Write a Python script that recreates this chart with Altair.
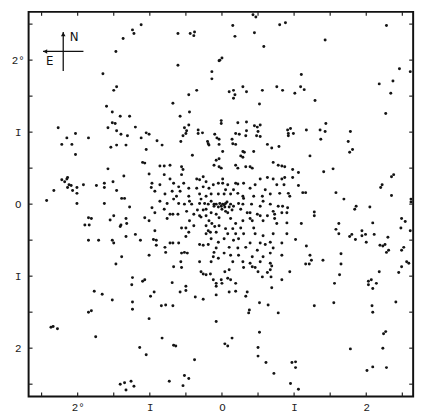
import altair as alt
import pandas as pd

# Star positions: offsets in degrees (east-west, north-south) from the cluster centre.
north_west = [(-1.65,1.81),(-1.46,1.63),(-1.50,1.58),(-1.60,1.36),(-1.52,1.28),(-1.41,1.22),(-1.28,1.22),(-1.52,1.13),(-1.48,1.12),(-1.58,1.06),(-1.46,1.02),(-1.40,0.97),(-1.31,0.95),(-1.20,1.07),(-2.27,1.06),(-2.15,0.92),(-2.03,0.98),(-1.85,0.92),(-1.37,2.30),(-1.24,2.42),(-1.22,2.37),(-1.47,2.12)]
north_centre = [(-1.12,2.49),(-0.61,2.37),(-0.44,2.37),(-0.38,2.39),(-0.39,2.34),(0.15,2.48),(0.18,2.33),(0.45,2.38),(0.80,2.49),(0.58,2.19),(0.43,2.63),(0.47,2.60),(-0.61,1.93),(-0.04,1.99),(-0.03,2.00),(0.00,2.03),(-0.14,1.84),(-0.14,1.74),(-0.35,1.58),(-0.46,1.52),(0.10,1.56),(0.16,1.58),(0.18,1.52),(0.16,1.47),(0.29,1.63),(0.34,1.56),(0.56,1.58),(0.76,1.63),(0.84,1.58),(0.52,1.39),(-0.68,1.40),(-0.45,1.28),(-0.58,1.22),(-0.46,1.10),(-0.52,1.06),(-0.49,1.02),(-0.50,0.98),(-0.54,0.95),(-0.33,1.03),(-0.33,0.98),(-0.27,0.99),(-0.01,1.16),(-0.01,1.12),(-0.10,0.97),(-0.07,0.92),(-0.04,0.90),(0.22,1.13),(0.34,1.14),(0.45,1.09),(0.49,1.07),(0.53,1.10),(0.19,0.98),(0.24,0.97),(0.33,0.95),(0.34,1.02),(0.48,0.95),(0.53,0.94),(0.50,1.01),(0.14,0.90),(-1.05,0.99),(-1.01,0.97),(-1.12,0.92),(-0.90,0.88),(-0.57,0.87),(-0.20,0.87)]
north_east = [(0.88,2.52),(1.43,2.28),(2.28,2.48),(1.10,1.80),(1.09,1.63),(1.14,1.59),(1.01,1.54),(1.29,1.44),(2.46,1.88),(2.61,1.84),(2.37,1.71),(2.34,1.54),(2.18,1.67),(2.27,1.26),(1.44,1.12),(0.91,1.03),(0.95,1.05),(0.92,0.98),(0.99,0.98),(0.92,0.95),(1.17,1.03),(1.36,1.03),(1.43,1.01),(1.37,0.90),(1.78,1.01),(1.75,0.87)]
west = [(-2.22,0.83),(-2.08,0.83),(-2.03,0.69),(-1.54,0.79),(-1.46,0.82),(-1.33,0.82),(-1.58,0.49),(-1.36,0.39),(-2.22,0.34),(-2.14,0.37),(-2.15,0.35),(-2.18,0.31),(-2.12,0.27),(-2.09,0.26),(-2.14,0.23),(-2.07,0.19),(-2.01,0.23),(-2.01,0.15),(-1.92,0.27),(-2.33,0.19),(-2.43,0.05),(-1.74,0.26),(-1.63,0.29),(-1.63,0.23),(-1.51,0.31),(-1.46,0.19),(-2.01,0.01),(-1.63,0.01),(-1.39,0.08),(-1.35,0.08),(-1.28,-0.04),(-1.85,-0.19),(-1.81,-0.20),(-1.90,-0.29),(-1.84,-0.29),(-1.55,-0.22),(-1.50,-0.16),(-1.41,-0.31),(-1.40,-0.29),(-1.33,-0.20),(-1.32,-0.27),(-1.85,-0.50),(-1.71,-0.50),(-1.52,-0.50),(-1.50,-0.54),(-1.33,-0.45),(-1.20,-0.42),(-1.39,-0.73),(-1.47,-0.83),(-1.24,-1.02),(-1.25,-1.12),(-1.77,-1.21),(-1.66,-1.25)]
south_west = [(-1.85,-1.50),(-1.81,-1.48),(-1.52,-1.33),(-1.24,-1.36),(-1.24,-1.46),(-2.37,-1.71),(-2.34,-1.70),(-2.28,-1.73),(-1.75,-1.84),(-1.41,-2.50),(-1.35,-2.48),(-1.26,-2.46),(-1.33,-2.58),(-1.22,-2.53)]
south = [(-1.14,-1.99),(-1.01,-1.59),(-1.05,-2.09),(-0.84,-1.41),(-0.78,-1.40),(-0.68,-1.41),(-0.83,-1.86),(-0.67,-1.96),(-0.64,-1.97),(-0.73,-2.46),(-0.52,-2.38),(-0.46,-2.42),(-0.54,-2.52),(-0.38,-2.16),(-0.08,-1.63),(0.04,-1.94),(0.08,-1.97),(0.14,-1.86),(0.37,-1.51),(0.38,-1.47),(0.52,-1.37),(0.64,-1.40),(0.78,-1.51),(0.52,-1.78),(0.50,-1.99),(0.50,-2.11),(0.61,-2.20),(0.72,-2.35),(0.97,-2.20),(1.02,-2.19),(1.02,-2.27),(0.95,-2.49),(1.06,-2.57),(1.28,-1.41),(1.55,-1.37),(1.78,-2.01),(2.01,-2.31),(2.09,-2.26),(2.28,-2.27),(2.08,-1.41),(2.09,-1.50),(2.23,-2.00),(2.24,-1.80),(2.27,-1.77),(2.41,-1.36)]
east = [(1.81,0.76),(1.77,0.72),(1.22,0.67),(0.87,0.52),(0.98,0.48),(1.06,0.44),(0.98,0.37),(0.87,0.37),(1.41,0.45),(1.54,0.49),(1.06,0.26),(1.12,0.16),(1.16,0.16),(0.92,0.15),(0.94,0.11),(1.58,0.16),(1.69,0.07),(2.38,0.41),(2.35,0.38),(2.22,0.27),(2.20,0.23),(2.35,0.12),(2.62,0.07),(2.62,0.03),(0.91,-0.05),(0.90,-0.12),(1.28,-0.11),(1.28,-0.16),(1.86,-0.03),(1.84,-0.07),(2.05,-0.04),(0.90,-0.26),(1.10,-0.27),(1.62,-0.27),(1.58,-0.35),(1.62,-0.41),(1.77,-0.45),(1.80,-0.42),(2.09,-0.26),(1.94,-0.37),(1.99,-0.42),(1.94,-0.44),(2.11,-0.42),(1.85,-0.49),(2.00,-0.53),(2.49,-0.20),(2.54,-0.24),(2.48,-0.33),(2.61,-0.37),(0.90,-0.41),(1.02,-0.49),(1.17,-0.58),(2.30,-0.46),(2.19,-0.57),(2.23,-0.58),(2.26,-0.56),(2.28,-0.67),(2.31,-0.64),(2.52,-0.60),(2.49,-0.64),(1.22,-0.71),(1.24,-0.78),(1.16,-0.83),(1.21,-0.83),(1.40,-0.78),(1.65,-0.69),(1.65,-0.83),(1.63,-0.98),(1.56,-1.10),(2.18,-0.94),(2.56,-0.80),(2.59,-0.82),(2.49,-0.87),(2.45,-0.95),(2.07,-1.05),(2.03,-1.07),(2.14,-1.10),(2.03,-1.12),(2.09,-1.17)]
inner_ring = [(-1.05,0.76),(-1.10,0.58),(-1.07,0.57),(-1.01,0.42),(-0.97,0.29),(-0.98,0.23),(-0.93,0.18),(-0.97,-0.05),(-0.93,-0.12),(-1.07,-0.19),(-1.01,-0.23),(-0.93,-0.37),(-1.13,-0.50),(-0.95,-0.49),(-0.91,-0.50),(-0.91,-0.57),(-1.01,-0.71),(-1.10,-1.07),(-1.07,-1.05),(-0.99,-1.28),(-0.94,-1.22),(-0.69,-1.09),(-0.67,-0.87),(-0.56,-0.88),(-0.50,-1.14),(-0.50,-1.20),(-0.37,-1.29),(-0.29,-0.94),(-0.26,-0.97),(-0.22,-0.98),(-0.16,-0.97),(-0.12,-1.05),(-0.08,-1.10),(-0.08,-1.14),(-0.01,-1.05),(0.00,-1.10),(0.08,-1.03),(0.12,-1.05),(0.19,-1.10),(0.04,-0.94),(0.10,-0.91),(0.30,-0.88),(0.42,-0.87),(0.46,-0.88),(0.50,-0.94),(0.56,-1.01),(0.63,-0.95),(0.67,-0.91),(0.69,-0.86),(0.68,-1.01),(0.69,-1.16),(0.83,-1.05),(0.94,-0.94),(0.35,-1.22),(0.33,-1.28),(0.19,-1.21),(0.10,-1.22),(-0.08,-1.26),(-0.26,-1.32),(-0.58,-1.22)]
core_nw = [(-0.83,0.82),(-0.19,0.84),(-0.18,0.82),(-0.04,0.83),(-0.41,0.68),(-0.08,0.61),(-0.04,0.63),(-0.11,0.54),(-0.04,0.52),(-0.86,0.53),(-0.80,0.53),(-0.72,0.54),(-0.56,0.52),(-0.54,0.48),(-0.80,0.41),(-0.72,0.35),(-0.56,0.41),(-0.35,0.35),(-0.31,0.34),(-0.26,0.38),(-0.22,0.31),(-0.12,0.27),(-0.05,0.29),(-0.86,0.27),(-0.67,0.29),(-0.60,0.24),(-0.53,0.29),(-0.46,0.22),(-0.35,0.22),(-0.26,0.24),(-0.18,0.22),(-0.79,0.14),(-0.69,0.18),(-0.63,0.11),(-0.58,0.18),(-0.46,0.11),(-0.31,0.14),(-0.22,0.11),(-0.15,0.14),(-0.05,0.14),(-0.86,0.04),(-0.76,0.01),(-0.67,0.07),(-0.60,0.01),(-0.45,0.04),(-0.29,0.07),(-0.24,0.01),(-0.15,0.04),(-0.11,0.00)]
core_ne = [(0.15,0.84),(0.19,0.83),(0.63,0.83),(0.79,0.80),(0.69,0.78),(0.29,0.73),(0.31,0.72),(0.26,0.67),(0.29,0.65),(0.44,0.73),(0.01,0.73),(0.71,0.58),(0.78,0.54),(0.83,0.53),(0.19,0.54),(0.22,0.50),(0.33,0.52),(0.39,0.52),(0.42,0.50),(-0.01,0.50),(0.53,0.35),(0.63,0.37),(0.71,0.35),(0.01,0.35),(0.83,0.35),(0.86,0.27),(0.76,0.27),(0.01,0.29),(0.08,0.27),(0.19,0.29),(0.22,0.28),(0.30,0.29),(0.39,0.22),(0.46,0.27),(0.60,0.20),(0.05,0.20),(0.16,0.20),(0.03,0.14),(0.12,0.14),(0.22,0.15),(0.29,0.11),(0.30,0.08),(0.44,0.11),(0.56,0.11),(0.67,0.14),(0.80,0.15),(0.57,0.04)]
core_sw = [(-0.52,0.00),(-0.42,0.00),(-0.31,0.01),(-0.19,0.00),(-0.34,-0.08),(-0.26,-0.08),(-0.22,-0.07),(-0.11,-0.03),(-0.08,0.00),(-0.05,-0.04),(-0.03,0.01),(-0.01,-0.03),(0.01,0.00),(0.04,-0.04),(0.05,0.01),(-0.80,-0.07),(-0.72,-0.14),(-0.68,-0.14),(-0.61,-0.14),(-0.49,-0.10),(-0.39,-0.14),(-0.31,-0.16),(-0.29,-0.18),(-0.22,-0.16),(-0.15,-0.12),(-0.08,-0.14),(-0.04,-0.19),(-0.18,-0.23),(-0.76,-0.20),(-0.45,-0.23),(-0.39,-0.30),(-0.56,-0.33),(-0.50,-0.33),(-0.22,-0.30),(-0.14,-0.27),(-0.10,-0.31),(-0.04,-0.30),(-0.19,-0.37),(-0.16,-0.39),(-0.22,-0.41),(-0.08,-0.39),(-0.46,-0.39),(-0.50,-0.45),(-0.15,-0.48),(-0.72,-0.54),(-0.68,-0.54),(-0.60,-0.54),(-0.31,-0.56),(-0.26,-0.57),(-0.19,-0.56),(-0.05,-0.53),(-0.08,-0.61),(-0.79,-0.60),(-0.78,-0.67),(-0.11,-0.67),(-0.56,-0.68),(-0.52,-0.67),(-0.48,-0.68),(-0.12,-0.73),(-0.05,-0.75),(-0.57,-0.80),(-0.15,-0.80),(-0.31,-0.80)]
core_se = [(0.03,-0.01),(0.07,0.03),(0.10,-0.04),(0.12,0.00),(0.14,-0.08),(0.05,-0.10),(0.16,-0.03),(0.00,-0.07),(0.08,-0.12),(0.23,0.01),(0.29,0.00),(0.41,0.00),(0.53,-0.03),(0.67,0.00),(0.78,-0.03),(0.84,-0.03),(0.26,-0.07),(0.35,-0.12),(0.39,-0.12),(0.49,-0.14),(0.53,-0.16),(0.63,-0.16),(0.71,-0.10),(0.73,-0.14),(0.83,-0.12),(0.12,-0.20),(0.19,-0.27),(0.29,-0.23),(0.39,-0.20),(0.42,-0.23),(0.57,-0.23),(0.73,-0.20),(0.76,-0.27),(0.05,-0.34),(0.15,-0.34),(0.26,-0.33),(0.44,-0.33),(0.08,-0.41),(0.19,-0.41),(0.30,-0.41),(0.46,-0.41),(0.57,-0.44),(0.71,-0.41),(0.03,-0.48),(0.16,-0.50),(0.23,-0.48),(0.39,-0.54),(0.53,-0.54),(0.60,-0.56),(0.67,-0.53),(0.83,-0.54),(0.10,-0.60),(0.22,-0.61),(0.33,-0.60),(0.49,-0.64),(0.71,-0.61),(0.03,-0.68),(0.12,-0.71),(0.23,-0.71),(0.42,-0.73),(0.57,-0.73),(0.67,-0.68),(0.83,-0.71),(0.15,-0.80),(0.29,-0.80),(0.39,-0.82),(0.53,-0.80),(0.67,-0.82)]

# Axis labels (typewriter style from the original figure)
label_values = [-2, -1, 0, 1, 2]
x_label_text = ["2°", "I", "O", "I", "2"]
y_label_text = ["2", "I", "O", "I", "2°"]
tick_values = [-2.5, -2.0, -1.5, -1.0, -0.5, 0.0, 0.5, 1.0, 1.5, 2.0, 2.5]

# Compass (N / E arrows), in degrees
compass_centre = (-2.20, 2.12)
compass_north_end = 2.39
compass_south_end = 1.85
compass_east_end = -2.48
compass_west_end = -1.92

regions = [north_west, north_centre, north_east, west, south_west, south,
           east, inner_ring, core_nw, core_ne, core_sw, core_se]
stars = pd.DataFrame([p for r in regions for p in r], columns=["ew", "ns"])

W = H = 392
xs = alt.Scale(domain=[-2.68, 2.65], nice=False, zero=False)
ys = alt.Scale(domain=[-2.67, 2.67], nice=False, zero=False)


def label_expr(values, texts):
    expr = "''"
    for v, t in zip(values, texts):
        expr = f"datum.value == {v} ? '{t}' : ({expr})"
    return expr


FONT = "Liberation Mono"

points = alt.Chart(stars).mark_circle(size=9, color="#141414", opacity=1).encode(
    x=alt.X("ew:Q", scale=xs, title=None,
            axis=alt.Axis(values=label_values, labelExpr=label_expr(label_values, x_label_text),
                          ticks=False, domain=False, grid=False, labelPadding=5,
                          labelFont=FONT, labelFontSize=11, labelColor="#222")),
    y=alt.Y("ns:Q", scale=ys, title=None,
            axis=alt.Axis(values=label_values, labelExpr=label_expr(label_values, y_label_text),
                          ticks=False, domain=False, grid=False, labelPadding=11,
                          labelAlign="center", labelBaseline="middle",
                          labelFont=FONT, labelFontSize=11, labelColor="#222")),
)

ticks_df = pd.DataFrame({"v": tick_values})
tick_style = dict(color="#222", strokeWidth=1.2)
bottom_ticks = alt.Chart(ticks_df).mark_rule(**tick_style).encode(
    x=alt.X("v:Q", scale=xs), y=alt.value(H), y2=alt.value(H - 4))
top_ticks = alt.Chart(ticks_df).mark_rule(**tick_style).encode(
    x=alt.X("v:Q", scale=xs), y=alt.value(0), y2=alt.value(4))
left_ticks = alt.Chart(ticks_df).mark_rule(**tick_style).encode(
    y=alt.Y("v:Q", scale=ys), x=alt.value(0), x2=alt.value(4))
right_ticks = alt.Chart(ticks_df).mark_rule(**tick_style).encode(
    y=alt.Y("v:Q", scale=ys), x=alt.value(W), x2=alt.value(W - 4))

cx, cy = compass_centre
vert_df = pd.DataFrame({"x": [cx], "y": [compass_south_end], "y2": [compass_north_end]})
horz_df = pd.DataFrame({"x": [compass_east_end], "x2": [compass_west_end], "y": [cy]})
compass_v = alt.Chart(vert_df).mark_rule(color="#111", strokeWidth=1.3).encode(
    x=alt.X("x:Q", scale=xs), y=alt.Y("y:Q", scale=ys), y2="y2:Q")
compass_h = alt.Chart(horz_df).mark_rule(color="#111", strokeWidth=1.3).encode(
    x=alt.X("x:Q", scale=xs), x2="x2:Q", y=alt.Y("y:Q", scale=ys))
head_n = alt.Chart(pd.DataFrame({"x": [cx], "y": [compass_north_end - 0.03]})).mark_point(
    shape="triangle-up", filled=True, size=22, color="#111", opacity=1).encode(
    x=alt.X("x:Q", scale=xs), y=alt.Y("y:Q", scale=ys))
head_e = alt.Chart(pd.DataFrame({"x": [compass_east_end + 0.03], "y": [cy]})).mark_point(
    shape="triangle-left", filled=True, size=22, color="#111", opacity=1).encode(
    x=alt.X("x:Q", scale=xs), y=alt.Y("y:Q", scale=ys))
labels_df = pd.DataFrame({"x": [cx + 0.09, compass_east_end + 0.04],
                          "y": [compass_north_end - 0.07, cy - 0.13],
                          "t": ["N", "E"]})
compass_text = alt.Chart(labels_df).mark_text(
    font="DejaVu Sans", fontSize=12, color="#111", align="left", baseline="middle").encode(
    x=alt.X("x:Q", scale=xs), y=alt.Y("y:Q", scale=ys), text="t:N")

chart = alt.layer(points, bottom_ticks, top_ticks, left_ticks, right_ticks,
                  compass_v, compass_h, head_n, head_e, compass_text).properties(
    width=W, height=H,
    autosize=alt.AutoSizeParams(type="none"),
    padding={"left": 21, "top": 0, "right": 8, "bottom": 16},
    background="white",
).configure_view(stroke="#111", strokeWidth=2)

chart.save("out.html", embed_options={"renderer": "svg", "actions": False})
